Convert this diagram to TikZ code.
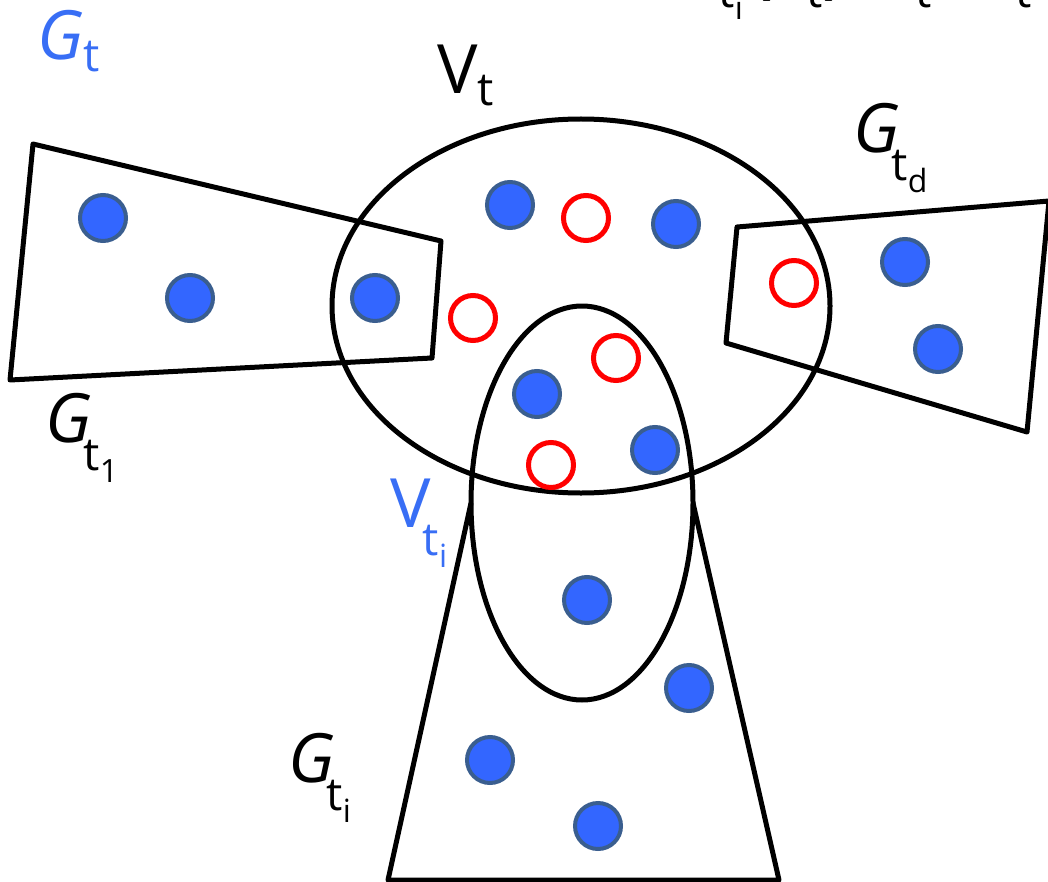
\documentclass[tikz,border=0pt]{standalone}
\usepackage{fontspec}
\setmainfont{Open Sans}
\usepackage{tikz}
\usetikzlibrary{calc}
\definecolor{dotblue}{RGB}{51,102,255}
\definecolor{dotedge}{RGB}{58,94,143}
\definecolor{labblue}{RGB}{56,110,245}
\definecolor{ringred}{RGB}{255,0,0}
\newcommand{\sublbl}[2]{{#1}\raisebox{-6pt}{\fontsize{23}{23}\selectfont #2}}
\newcommand{\subsublbl}[3]{{#1}\kern-4pt\raisebox{-14pt}{\fontsize{23}{23}\selectfont #2\raisebox{-6pt}{\fontsize{16}{16}\selectfont #3}}}
\newcommand{\bigparen}[1]{\raisebox{-4pt}{\fontsize{44}{44}\selectfont #1}}

\begin{document}
\begin{tikzpicture}[x=0.5pt, y=-0.5pt,
  part/.style={line width=2.5pt, line join=round},
  hub/.style={circle, draw=dotedge, fill=dotblue, line width=2pt, minimum size=23pt, inner sep=0pt},
  ring/.style={circle, draw=ringred, line width=2.5pt, minimum size=22.5pt, inner sep=0pt},
  lbl/.style={anchor=base west, inner sep=0pt, font=\fontsize{34}{34}\selectfont}]
\useasboundingbox (0,0) rectangle (1048,882);
\coordinate (vt) at (581,306);
\coordinate (vti) at (582,503);
\coordinate (vtiW) at (471,503);
\coordinate (vtiE) at (693,503);
\draw[part] (33,144) -- (441,241) -- (432,358) -- (10,380) -- cycle;
\draw[part] (737,227) -- (1049,201) -- (1027,432) -- (726,343) -- cycle;
\draw[part] (vt) ellipse [x radius=124.5pt, y radius=93.5pt];
\draw[part] (vti) ellipse [x radius=55.5pt, y radius=98.5pt];
\draw[part] (vtiW) -- (388,880) -- (779,880) -- (vtiE);
\node[hub] (l1) at (103,218) {};
\node[hub] (l2) at (190,298) {};
\node[hub] (l3) at (375,298) {};
\node[hub] (c1) at (510,205) {};
\node[hub] (c2) at (676,224) {};
\node[hub] (c3) at (537,394) {};
\node[hub] (c4) at (655,450) {};
\node[hub] (b1) at (587,600) {};
\node[hub] (b2) at (689,688) {};
\node[hub] (b3) at (490,760) {};
\node[hub] (b4) at (598,826) {};
\node[hub] (r1) at (905,262) {};
\node[hub] (r2) at (938,349) {};
\node[ring] (o1) at (586,218) {};
\node[ring] (o2) at (473,318) {};
\node[ring] (o3) at (616,358) {};
\node[ring] (o4) at (551,465) {};
\node[ring] (o5) at (794,283) {};
\node[lbl, text=labblue] (gt) at (37,60) {\sublbl{\itshape G}{t}};
\node[lbl] (vtlbl) at (437,94) {\sublbl{V}{t}};
\node[lbl] (gtd) at (853,153) {\subsublbl{\itshape G}{t}{d}};
\node[lbl] (gt1) at (45,442) {\subsublbl{\itshape G}{t}{1}};
\node[lbl, text=labblue] (vtilbl) at (390,527) {\subsublbl{V}{t}{i}};
\node[lbl] (gti) at (288,782) {\subsublbl{\itshape G}{t}{i}};
\node[lbl] (top) at (680,-20) {\subsublbl{\itshape G}{t}{i}\hspace{2.5pt}\bigparen{(}\subsublbl{V}{t}{}\bigparen{)}\hspace{17pt}\subsublbl{V}{t}{}\hspace{26pt}\subsublbl{V}{t}{}};
\end{tikzpicture}
\end{document}
